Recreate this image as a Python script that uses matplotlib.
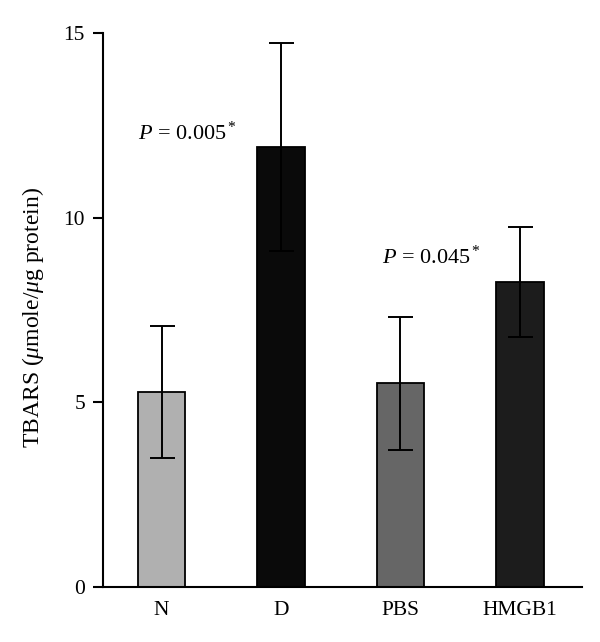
import matplotlib
matplotlib.use("Agg")
import matplotlib.pyplot as plt

categories = ["N", "D", "PBS", "HMGB1"]
means = [5.28, 11.91, 5.52, 8.26]
errors = [1.8, 2.82, 1.8, 1.5]
bar_colors = ["#b0b0b0", "#0a0a0a", "#666666", "#1c1c1c"]
annotations = [r"$P$ = 0.005$^*$", r"$P$ = 0.045$^*$"]
annot_pos = [(0.22, 12.3), (2.26, 8.94)]
yticks = [0, 5, 10, 15]

plt.rcParams["font.family"] = ["Liberation Serif", "DejaVu Serif"]
plt.rcParams["mathtext.fontset"] = "custom"
plt.rcParams["mathtext.rm"] = "Liberation Serif"
plt.rcParams["mathtext.it"] = "Liberation Serif:italic"

fig = plt.figure(figsize=(6, 6.42), dpi=100)
ax = fig.add_axes([0.1717, 0.0857, 0.97 - 0.1717, 0.9486 - 0.0857])

x = list(range(len(categories)))
ax.bar(x, means, width=0.4, color=bar_colors, edgecolor="black", linewidth=1.3, zorder=2)
ax.errorbar(x, means, yerr=errors, fmt="none", ecolor="black", elinewidth=1.4,
            capsize=9, capthick=1.4, zorder=3)

for txt, (tx, ty) in zip(annotations, annot_pos):
    ax.text(tx, ty, txt, ha="center", va="center", fontsize=16)

ax.set_xlim(-0.49, 3.52)
ax.set_ylim(0, 15)
ax.set_yticks(yticks)
ax.set_xticks(x)
ax.set_xticklabels(categories, fontsize=15.5)
ax.tick_params(axis="y", labelsize=15.5, length=7, width=1.5, direction="out", pad=6)
ax.tick_params(axis="x", length=0, pad=10)
ax.spines["top"].set_visible(False)
ax.spines["right"].set_visible(False)
ax.spines["left"].set_linewidth(1.5)
ax.spines["bottom"].set_linewidth(1.5)
ax.set_ylabel(r"TBARS ($\mu$mole/$\mu$g protein)", fontsize=17)
ax.yaxis.set_label_coords(-0.12, 0.486)

fig.savefig("out.png", dpi=100)
